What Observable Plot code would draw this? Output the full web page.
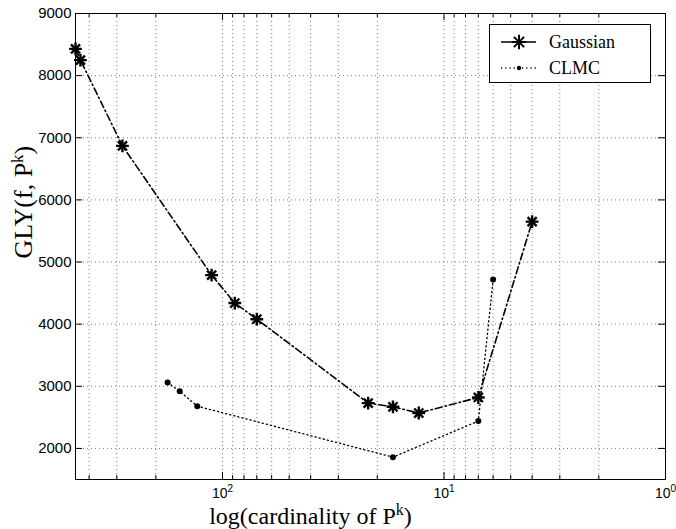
<!DOCTYPE html>
<html><head><meta charset="utf-8">
<script src="https://cdn.jsdelivr.net/npm/d3@7"></script>
<script src="https://cdn.jsdelivr.net/npm/@observablehq/plot@0.6"></script>
<style>
body{margin:0;background:#fff;}
#wrap{position:relative;width:676px;height:529px;overflow:hidden;}
#legend{position:absolute;left:489px;top:24px;width:160px;height:57px;border:1px solid #000;background:#fff;font-family:"Liberation Serif","Times New Roman",serif;font-size:18px;}
#legend .row{position:absolute;left:0;height:26px;display:flex;align-items:center;}
#legend svg{display:block;}
#legend span{margin-left:9px;line-height:1;}
</style></head><body><div id="wrap"><div id="legend"></div></div>
<script>
// ---- data ----
const seriesNames = ["Gaussian", "CLMC"];
const gaussX = [461, 438, 283, 112, 88, 70, 22, 17, 13, 7, 4];
const gaussY = [8430, 8250, 6870, 4790, 4340, 4080, 2730, 2670, 2570, 2820, 5650];
const clmcX = [177, 156, 130, 17, 7, 6];
const clmcY = [3060, 2920, 2680, 1860, 2440, 4720];
const xMajor = [100, 10, 1];
const xMinor = [400, 300, 200, 90, 80, 70, 60, 50, 40, 30, 20, 9, 8, 7, 6, 5, 4, 3, 2];
const yTicks = [2000, 3000, 4000, 5000, 6000, 7000, 8000, 9000];
const xLabel = "log(cardinality of P^k)";
const yLabel = "GLY(f, P^k)";

const gauss = gaussX.map((x, i) => ({x, y: gaussY[i]}));
const clmc = clmcX.map((x, i) => ({x, y: clmcY[i]}));

const W = 676, H = 529, mL = 75, mR = 11, mT = 13, mB = 50;
const plotW = W - mL - mR, plotH = H - mT - mB;
const gridStyle = {stroke: "#7a7a7a", strokeDasharray: "1,3", strokeWidth: 1};
const gDash = "7,3,1.5,3";
const cDash = "1.2,3";

const chart = Plot.plot({
  width: W, height: H,
  marginLeft: mL, marginRight: mR, marginTop: mT, marginBottom: mB,
  style: {fontFamily: "'Liberation Sans', Arial, sans-serif", background: "#fff", overflow: "visible"},
  x: {type: "log", domain: [461, 1]},
  y: {domain: [1500, 9000]},
  marks: [
    Plot.ruleX(xMinor.concat(xMajor.slice(0, 2)), {x: d => d, ...gridStyle}),
    Plot.ruleY(yTicks, {y: d => d, ...gridStyle}),
    // inward ticks
    Plot.ruleX(xMajor, {x: d => d, insetTop: plotH - 7, stroke: "#000"}),
    Plot.ruleX(xMajor, {x: d => d, insetBottom: plotH - 7, stroke: "#000"}),
    Plot.ruleX(xMinor, {x: d => d, insetTop: plotH - 4, stroke: "#000"}),
    Plot.ruleX(xMinor, {x: d => d, insetBottom: plotH - 4, stroke: "#000"}),
    Plot.ruleY(yTicks, {y: d => d, insetRight: plotW - 7, stroke: "#000"}),
    Plot.ruleY(yTicks, {y: d => d, insetLeft: plotW - 7, stroke: "#000"}),
    Plot.frame({stroke: "#000", strokeWidth: 1}),
    Plot.axisX({ticks: xMajor, tickSize: 0, tickPadding: 9, fontSize: 14, className: "xt",
      tickFormat: d => "10^" + Math.round(Math.log10(d)), label: null}),
    Plot.axisY({ticks: yTicks, tickSize: 0, tickPadding: 4, fontSize: 15, label: null, tickFormat: d => String(d)}),
    // series
    Plot.line(gauss, {x: "x", y: "y", stroke: "#000", strokeWidth: 1.6, strokeDasharray: gDash}),
    Plot.line(clmc, {x: "x", y: "y", stroke: "#000", strokeWidth: 1.3, strokeDasharray: cDash}),
    Plot.dot(gauss, {x: "x", y: "y", symbol: "plus", r: 4.2, stroke: "#000", strokeWidth: 2.4}),
    Plot.dot(gauss, {x: "x", y: "y", symbol: "times", r: 4.2, stroke: "#000", strokeWidth: 2.4}),
    Plot.dot(clmc, {x: "x", y: "y", r: 3, fill: "#000"}),
    // axis titles
    Plot.text([xLabel], {frameAnchor: "bottom", dx: -60, dy: 44, fontSize: 24, className: "xlab",
      fontFamily: "'Liberation Serif', 'Times New Roman', serif", fill: "#000"}),
    Plot.text([yLabel], {frameAnchor: "left", dx: -52, dy: 12, rotate: -90, fontSize: 26, className: "ylab",
      fontFamily: "'Liberation Serif', 'Times New Roman', serif", fill: "#000"})
  ]
});

function supify(el, fs, shift) {
  const s = el.textContent;
  const m = s.match(/^(.*)\^(\w)(.*)$/);
  if (!m) return;
  const t = d3.select(el);
  t.text(null);
  t.append("tspan").text(m[1]);
  t.append("tspan").attr("dy", -shift).attr("font-size", fs).text(m[2]);
  if (m[3]) t.append("tspan").attr("dy", shift).text(m[3]);
}
const svg = d3.select(chart);
svg.selectAll(".xlab text").each(function() { supify(this, 16, 9); });
svg.selectAll(".ylab text").each(function() { supify(this, 17, 9); });
svg.selectAll(".xt text").each(function() { supify(this, 10, 6); });

document.getElementById("wrap").prepend(chart);

// legend
const leg = d3.select("#legend");
seriesNames.forEach((name, i) => {
  const row = leg.append("div").attr("class", "row").style("top", (i === 0 ? 4 : 30) + "px");
  const s = row.append("svg").attr("width", 50).attr("height", 26);
  s.append("line").attr("x1", 11).attr("x2", 46).attr("y1", 13).attr("y2", 13)
    .attr("stroke", "#000").attr("stroke-width", i === 0 ? 1.6 : 1.3)
    .attr("stroke-dasharray", i === 0 ? "none" : cDash);
  if (i === 0) {
    const sym = d3.symbol();
    s.append("path").attr("transform", "translate(29,13)").attr("d", sym.type(d3.symbolPlus).size(70)())
      .attr("fill", "none").attr("stroke", "#000").attr("stroke-width", 2);
    s.append("path").attr("transform", "translate(29,13)").attr("d", sym.type(d3.symbolTimes).size(70)())
      .attr("fill", "none").attr("stroke", "#000").attr("stroke-width", 2);
  } else {
    s.append("circle").attr("cx", 29).attr("cy", 13).attr("r", 2.2).attr("fill", "#000");
  }
  row.append("span").text(name);
});
</script></body></html>
